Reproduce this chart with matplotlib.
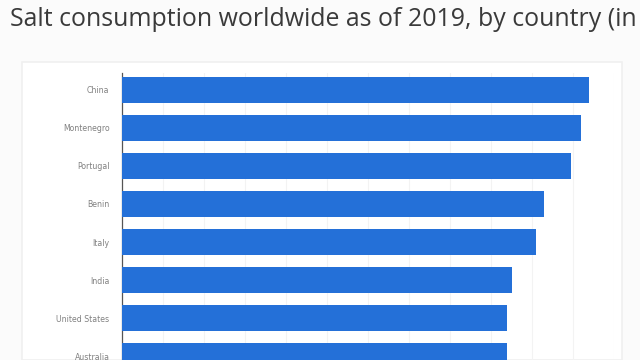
import matplotlib
matplotlib.use('Agg')
import matplotlib.pyplot as plt
from matplotlib.patches import Rectangle

countries = ['China', 'Montenegro', 'Portugal', 'Benin', 'Italy', 'India', 'United States', 'Australia']
salt_g = [11.4, 11.2, 10.95, 10.3, 10.1, 9.5, 9.4, 9.4]

fig = plt.figure(figsize=(6.4, 3.6), dpi=100)
fig.patch.set_facecolor('#fbfbfb')

# white chart panel behind the axes
panel = Rectangle((22 / 640, 0), (622 - 22) / 640, (360 - 62) / 360,
                  transform=fig.transFigure, facecolor='white',
                  edgecolor='#f0f0f0', lw=1.2, zorder=-5)
fig.add_artist(panel)

# title runs off the right edge, as in the original screenshot
fig.text(0.015, 1 - 20 / 360, 'Salt consumption worldwide as of 2019, by country (in grams per day)',
         fontsize=17.9, color='#3a3a3a', va='center', ha='left', family='Open Sans')

ax = fig.add_axes([122 / 640, 0, (614 - 122) / 640, (360 - 73) / 360])
ax.set_zorder(2)
ax.set_facecolor('none')
pos = list(range(len(countries)))
ax.barh(pos, salt_g, height=0.66, color='#2470d8', zorder=3)
ax.set_xlim(0, 12)
ax.set_ylim(7.105, -0.447)
ax.set_yticks(pos)
ax.set_yticklabels(countries, fontsize=5.6, color='#808080')
ax.tick_params(axis='y', length=0, pad=9)
ax.set_xticks(range(1, 13))
ax.tick_params(axis='x', length=0, labelbottom=False)
ax.grid(axis='x', color='#f3f3f3', lw=0.8, zorder=0)
for s in ['top', 'right', 'bottom']:
    ax.spines[s].set_visible(False)
ax.spines['left'].set_color('#555555')
ax.spines['left'].set_linewidth(0.9)

fig.savefig('out.png', dpi=100, facecolor=fig.get_facecolor())
